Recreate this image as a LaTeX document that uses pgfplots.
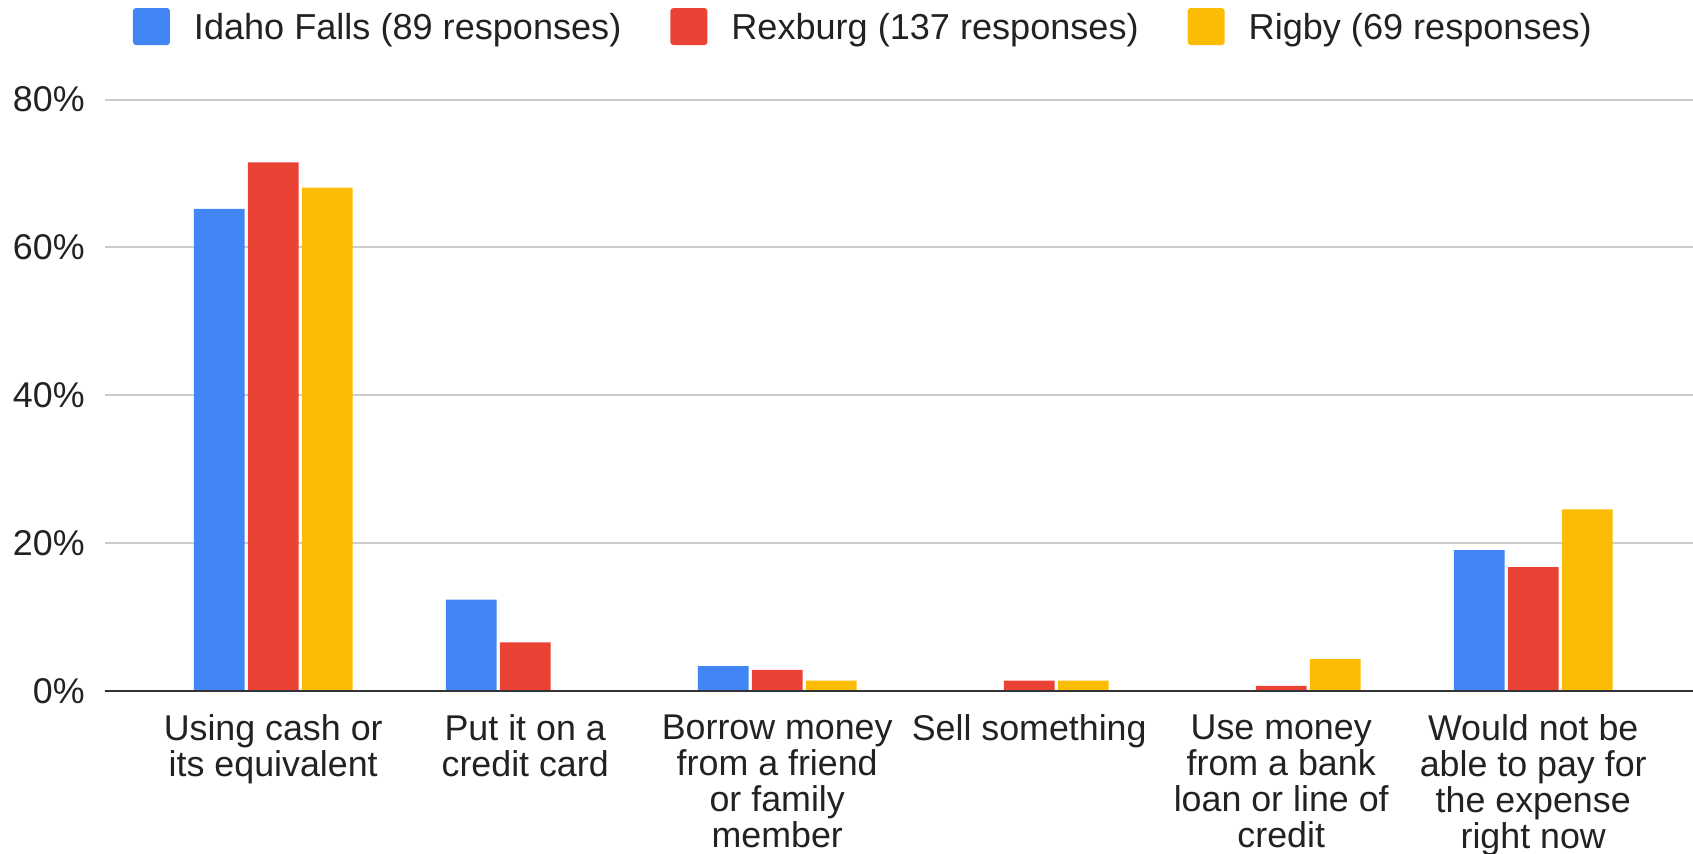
\documentclass[border=0pt]{standalone}
\usepackage{pgfplots}
\pgfplotsset{compat=1.18}
\usepackage{fontspec}
\setmainfont{Liberation Sans}
\definecolor{gblue}{HTML}{4285F4}
\definecolor{gred}{HTML}{EA4335}
\definecolor{gyellow}{HTML}{FBBC04}
\definecolor{gridc}{HTML}{CCCCCC}
\definecolor{txt}{HTML}{222222}
\definecolor{basec}{HTML}{333333}
\begin{document}
\begin{tikzpicture}
\useasboundingbox (-52.5pt,-80.85pt) rectangle (794pt,345.65pt);
\begin{axis}[
  at={(0pt,0pt)}, anchor=south west,
  scale only axis,
  width=794pt, height=295.9pt,
  xmin=-0.6675, xmax=5.634,
  ymin=0, ymax=80,
  enlargelimits=false,
  ybar=1.65pt, bar width=25.35pt,
  axis line style={draw=none},
  major tick length=0pt,
  ytick={0,20,40,60,80},
  yticklabel={\pgfmathprintnumber{\tick}\%},
  /pgf/number format/assume math mode=true,
  ymajorgrids, grid style={gridc, line width=1pt},
  xtick={0,1,2,3,4,5},
  xticklabels={{Using cash or\\its equivalent},{Put it on a\\credit card},{Borrow money\\from a friend\\or family\\member},{Sell something},{Use money\\from a bank\\loan or line of\\credit},{Would not be\\able to pay for\\the expense\\right now}},
  font=\fontsize{17.9}{18}\selectfont,
  every tick label/.append style={text=txt},
  yticklabel style={anchor=east, inner sep=0pt, xshift=-10pt},
  xticklabel style={anchor=north, align=center, inner sep=0pt, yshift=-11.6pt},
  legend columns=3,
  legend style={at={(rel axis cs:0.01763,1.1233)}, anchor=west, draw=none, fill=none,
    inner sep=0pt, outer sep=0pt, text=txt, font=\fontsize{18.05}{18}\selectfont,
    nodes={inner sep=0pt},
    /tikz/every odd column/.append style={column sep=12pt},
    /tikz/every even column/.append style={column sep=24.5pt}},
  legend image code/.code={\fill[#1, rounded corners=1.5pt] (0pt,-8.75pt) rectangle (18.5pt,9.75pt);},
]
\addplot[fill=gblue, draw=none] coordinates {(0,65.2) (1,12.4) (2,3.4) (3,0) (4,0) (5,19.1)};
\addplot[fill=gred, draw=none] coordinates {(0,71.5) (1,6.6) (2,2.9) (3,1.46) (4,0.73) (5,16.8)};
\addplot[fill=gyellow, draw=none] coordinates {(0,68.1) (1,0) (2,1.45) (3,1.45) (4,4.35) (5,24.6)};
\legend{Idaho Falls (89 responses), Rexburg (137 responses), Rigby (69 responses)}
\draw[basec, line width=1.4pt] (rel axis cs:0,0) -- (rel axis cs:1,0);
\end{axis}
\end{tikzpicture}
\end{document}
